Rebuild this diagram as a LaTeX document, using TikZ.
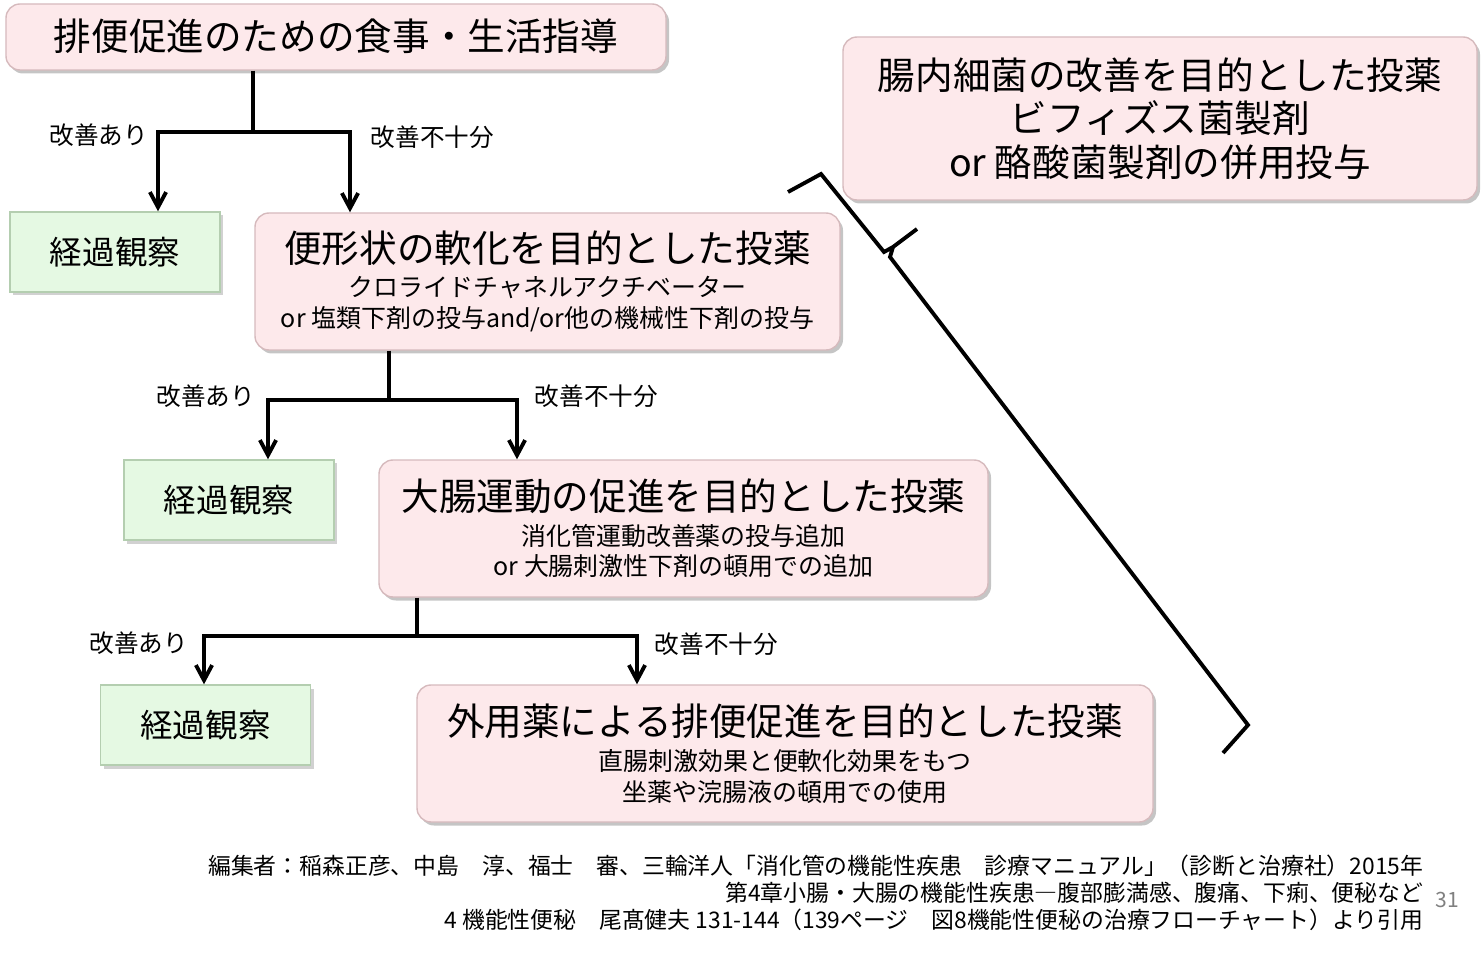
\documentclass[tikz,border=0pt]{standalone}
\usepackage{fontspec}
\setmainfont{Noto Sans CJK JP}
\usepackage{xcolor}
\usetikzlibrary{arrows.meta, positioning, shadows}

\definecolor{drugpink}{RGB}{253,233,235}
\definecolor{drugedge}{RGB}{214,186,189}
\definecolor{obsgreen}{RGB}{229,249,227}
\definecolor{obsedge}{RGB}{180,206,176}

\newcommand{\titlesize}{\fontsize{10.7}{12.5}\selectfont}
\newcommand{\subsize}{\fontsize{7.1}{8.8}\selectfont}

\tikzstyle{drug} = [rectangle, rounded corners=0.14cm, inner sep=0pt, align=center, draw=drugedge, fill=drugpink, drop shadow={shadow xshift=0.03cm, shadow yshift=-0.035cm, fill=black!45, opacity=0.5}]
\tikzstyle{observe} = [rectangle, minimum width=2.1cm, minimum height=0.8cm, inner sep=0pt, draw=obsedge, fill=obsgreen, font=\fontsize{9.25}{11}\selectfont, drop shadow={shadow xshift=0.03cm, shadow yshift=-0.035cm, fill=black!40, opacity=0.45}]
\tikzstyle{result} = [font=\fontsize{7}{8}\selectfont, inner sep=0pt]
\tikzstyle{line} = [line width=1.1pt]
\tikzstyle{arrow} = [line width=1.1pt, -{Straight Barb[length=4.3pt, width=4.6pt]}]

\begin{document}
\begin{tikzpicture}
\useasboundingbox (0,0) rectangle (14.81,-9.53);

% Lifestyle guidance
\node (guide) [drug, minimum width=6.6cm, minimum height=0.66cm, font=\titlesize] at (3.36,-0.37) {\raisebox{0.04cm}{排便促進のための食事・生活指導}};

% Gut flora (used alongside)
\node (flora) [drug, minimum width=6.34cm, minimum height=1.63cm, font=\fontsize{10.7}{12.4}\selectfont] at (11.60,-1.185) {腸内細菌の改善を目的とした投薬\\ビフィズス菌製剤\\or 酪酸菌製剤の併用投与};

% Step 1
\node (obs1) [observe] at (1.15,-2.52) {経過観察};
\node (soften) [drug, minimum width=5.85cm, minimum height=1.37cm, font=\subsize] at (5.475,-2.815) {{\titlesize 便形状の軟化を目的とした投薬}\\[1pt]クロライドチャネルアクチベーター\\or 塩類下剤の投与and/or他の機械性下剤の投与};

% Step 2
\node (obs2) [observe] at (2.29,-5.00) {経過観察};
\node (motility) [drug, minimum width=6.09cm, minimum height=1.37cm, font=\subsize] at (6.835,-5.285) {{\titlesize 大腸運動の促進を目的とした投薬}\\[1pt]消化管運動改善薬の投与追加\\or 大腸刺激性下剤の頓用での追加};

% Step 3
\node (obs3) [observe] at (2.055,-7.25) {経過観察};
\node (topical) [drug, minimum width=7.36cm, minimum height=1.37cm, font=\subsize] at (7.85,-7.535) {{\titlesize 外用薬による排便促進を目的とした投薬}\\[1pt]直腸刺激効果と便軟化効果をもつ\\坐薬や浣腸液の頓用での使用};

% Branch points
\coordinate (fork1) at (2.53,-1.32);
\coordinate (fork2) at (3.89,-4.00);
\coordinate (fork3) at (4.17,-6.36);

% Arrows
\draw [line] (guide.south -| fork1) -- (fork1);
\draw [arrow] (fork1) -| node[result, left=0.08cm, yshift=-0.03cm] {改善あり} ([xshift=0.43cm]obs1.north);
\draw [arrow] (fork1) -| node[result, right=0.19cm, yshift=-0.05cm] {改善不十分} ([xshift=-1.975cm]soften.north);

\draw [line] (soften.south -| fork2) -- (fork2);
\draw [arrow] (fork2) -| node[result, left=0.11cm, yshift=0.04cm] {改善あり} ([xshift=0.39cm]obs2.north);
\draw [arrow] (fork2) -| node[result, right=0.16cm, yshift=0.04cm] {改善不十分} ([xshift=-1.665cm]motility.north);

\draw [line] (motility.south -| fork3) -- (fork3);
\draw [arrow] (fork3) -| node[result, left=0.14cm, yshift=-0.07cm] {改善あり} ([xshift=-0.015cm]obs3.north);
\draw [arrow] (fork3) -| node[result, right=0.16cm, yshift=-0.08cm] {改善不十分} ([xshift=-1.48cm]topical.north);

% Brace
\draw [line, line join=miter] (7.88,-1.92) -- (8.21,-1.74) -- (8.84,-2.52) -- (8.93,-2.47) -- (9.17,-2.29)
  (8.93,-2.47) -- (8.90,-2.57) -- (12.48,-7.25) -- (12.23,-7.53);

% Source
\node (ref) [anchor=east, align=right, inner sep=0pt, font=\fontsize{6.5}{7.7}\selectfont] at (14.24,-8.93) {編集者：稲森正彦、中島　淳、福士　審、三輪洋人「消化管の機能性疾患　診療マニュアル」（診断と治療社）2015年\\第4章小腸・大腸の機能性疾患―腹部膨満感、腹痛、下痢、便秘など\\4 機能性便秘　尾髙健夫 131-144（139ページ　図8機能性便秘の治療フローチャート）より引用};
\node (pagenum) [font=\fontsize{6}{7}\selectfont, text=gray] at (14.47,-9.00) {31};

\end{tikzpicture}
\end{document}
